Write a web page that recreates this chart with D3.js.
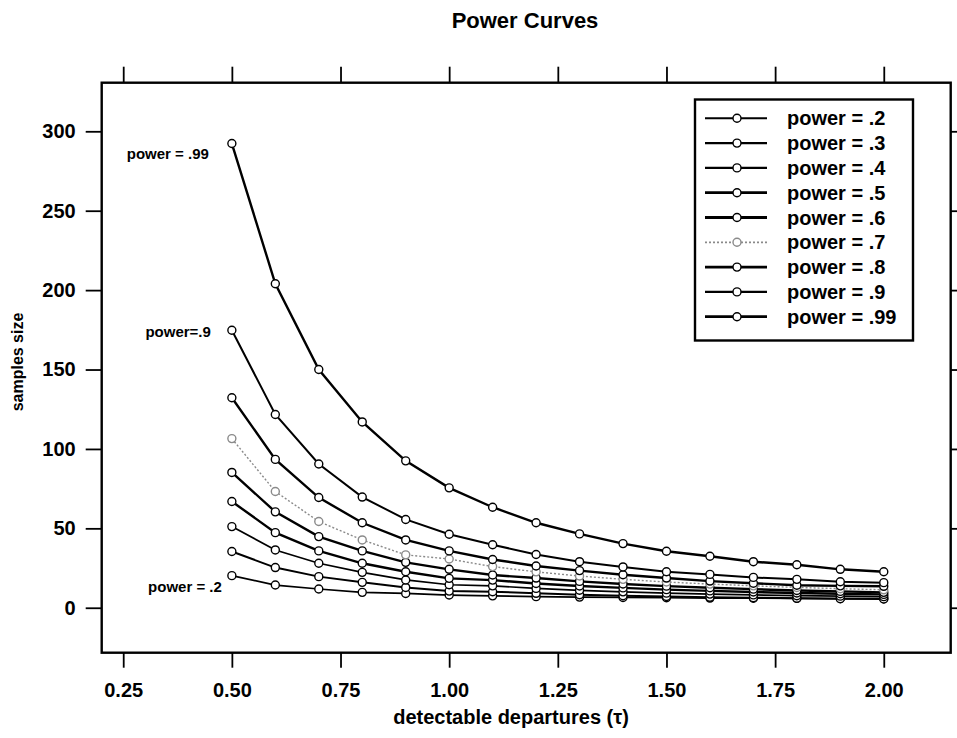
<!DOCTYPE html>
<html><head><meta charset="utf-8">
<script src="https://cdn.jsdelivr.net/npm/d3@7"></script>
<style>body{margin:0;background:#fff}svg{display:block;font-family:"Liberation Sans",Arial,sans-serif}</style>
</head><body><svg id="c" width="957" height="738"></svg>
<script>
const tau = [0.5,0.6,0.7,0.8,0.9,1.0,1.1,1.2,1.3,1.4,1.5,1.6,1.7,1.8,1.9,2.0];
const seriesNames = ["power = .2","power = .3","power = .4","power = .5","power = .6","power = .7","power = .8","power = .9","power = .99"];
const p20 = [20.2,14.3,11.8,9.7,9.0,8.0,7.5,7.0,6.7,6.5,6.3,6.1,6.0,5.9,5.8,5.7];
const p30 = [35.4,25.3,19.6,16.0,12.8,10.5,10.1,9.1,8.2,7.6,7.1,6.6,6.3,6.0,5.7,5.5];
const p40 = [51.1,36.4,28.0,22.3,17.5,14.5,13.8,12.2,11.0,10.0,9.2,8.6,8.1,7.6,7.3,7.0];
const p50 = [66.9,47.3,35.8,28.0,22.7,18.5,17.4,15.3,13.7,12.5,11.4,10.6,9.9,9.3,8.8,8.4];
const p60 = [85.2,60.4,44.8,35.8,28.6,24.2,20.6,18.7,16.6,15.0,13.6,12.6,11.7,10.9,10.3,9.7];
const p70 = [106.5,73.2,54.3,42.7,33.3,30.7,25.9,22.6,20.0,17.9,16.2,14.9,13.8,12.8,12.0,11.3];
const p80 = [132.2,93.4,69.4,53.5,42.7,35.8,30.4,26.3,23.4,20.8,18.7,16.8,15.4,14.2,13.8,13.5];
const p90 = [174.7,121.7,90.5,69.7,55.6,46.3,39.7,33.5,29.0,25.7,22.7,21.0,19.1,17.9,16.4,15.8];
const p99 = [292.3,204.0,150.0,117.0,92.5,75.5,63.3,53.5,46.5,40.4,35.6,32.4,29.0,27.1,24.2,22.7];
const seriesValues = [p20,p30,p40,p50,p60,p70,p80,p90,p99];
const xTicks = [0.25,0.50,0.75,1.00,1.25,1.50,1.75,2.00];
const yTicks = [0,50,100,150,200,250,300];
const curveLabels = [
  {text:"power = .99", s:8, dx:-23, dy:15},
  {text:"power=.9",    s:7, dx:-21, dy:7},
  {text:"power = .2",  s:0, dx:-10, dy:16}];

const styles = [
  {w:1.7,c:"#000",d:null},{w:2.0,c:"#000",d:null},{w:1.7,c:"#000",d:null},
  {w:2.4,c:"#000",d:null},{w:2.4,c:"#000",d:null},{w:1.4,c:"#8a8a8a",d:"2,2"},
  {w:2.4,c:"#000",d:null},{w:2.0,c:"#000",d:null},{w:2.4,c:"#000",d:null}];

const svg = d3.select("#c");
const L=101.7,T=82.7,R=950.7,B=652.7;
const x = d3.scaleLinear().domain([0.2005,2.154]).range([L,R]);
const y = d3.scaleLinear().domain([-28.3,330.6]).range([B,T]);

svg.append("rect").attr("x",L).attr("y",T).attr("width",R-L).attr("height",B-T)
  .attr("fill","none").attr("stroke","#000").attr("stroke-width",2.4);

const fmt = d3.format(".2f");
const gB = svg.append("g").attr("transform",`translate(0,${B})`)
  .call(d3.axisBottom(x).tickValues(xTicks).tickFormat(fmt).tickSize(15).tickPadding(15));
const gT = svg.append("g").attr("transform",`translate(0,${T})`)
  .call(d3.axisTop(x).tickValues(xTicks).tickFormat("").tickSize(16));
const gL = svg.append("g").attr("transform",`translate(${L},0)`)
  .call(d3.axisLeft(y).tickValues(yTicks).tickSize(16).tickPadding(10));
const gR = svg.append("g").attr("transform",`translate(${R},0)`)
  .call(d3.axisRight(y).tickValues(yTicks).tickFormat("").tickSize(12));
[gB,gT,gL,gR].forEach(g=>{
  g.select(".domain").remove();
  g.selectAll("line").attr("stroke","#000").attr("stroke-width",1.8);
  g.selectAll("text").attr("font-size",20).attr("font-weight","bold").attr("fill","#000")
   .attr("font-family","'Liberation Sans',Arial,sans-serif");
});

const line = d3.line().x((d,i)=>x(tau[i])).y(d=>y(d));
const gS = svg.append("g");
seriesValues.forEach((vals,k)=>{
  const st = styles[k];
  gS.append("path").attr("d",line(vals)).attr("fill","none")
    .attr("stroke",st.c).attr("stroke-width",st.w).attr("stroke-dasharray",st.d);
});
seriesValues.forEach((vals,k)=>{
  gS.selectAll(null).data(vals).enter().append("circle")
    .attr("cx",(d,i)=>x(tau[i])).attr("cy",d=>y(d)).attr("r",4)
    .attr("fill","#fff").attr("stroke",k===5?"#8a8a8a":"#000").attr("stroke-width",1.4);
});

curveLabels.forEach(cl=>{
  const v = seriesValues[cl.s][0];
  svg.append("text").attr("x",x(tau[0])+cl.dx).attr("y",y(v)+cl.dy)
    .attr("text-anchor","end").attr("font-size",15).attr("font-weight","bold").text(cl.text);
});

// legend
const lg = svg.append("g");
lg.append("rect").attr("x",695).attr("y",99.5).attr("width",218).attr("height",241)
  .attr("fill","#fff").attr("stroke","#000").attr("stroke-width",2.4);
seriesNames.forEach((n,k)=>{
  const yy = 118.3 + k*24.8;
  const st = styles[k];
  lg.append("line").attr("x1",705).attr("x2",767).attr("y1",yy).attr("y2",yy)
    .attr("stroke",st.c).attr("stroke-width",st.w+0.4).attr("stroke-dasharray",st.d);
  lg.append("circle").attr("cx",737).attr("cy",yy).attr("r",4).attr("fill","#fff")
    .attr("stroke",k===5?"#8a8a8a":"#000").attr("stroke-width",1.4);
  lg.append("text").attr("x",787).attr("y",yy+7).attr("font-size",20).attr("font-weight","bold").text(n);
});

svg.append("text").attr("x",525).attr("y",28).attr("text-anchor","middle")
  .attr("font-size",22).attr("font-weight","bold").text("Power Curves");
svg.append("text").attr("x",511).attr("y",724).attr("text-anchor","middle")
  .attr("font-size",20).attr("font-weight","bold").text("detectable departures (τ)");
svg.append("text").attr("transform",`translate(23,362) rotate(-90)`).attr("text-anchor","middle")
  .attr("font-size",16).attr("font-weight","bold").text("samples size");
</script></body></html>
